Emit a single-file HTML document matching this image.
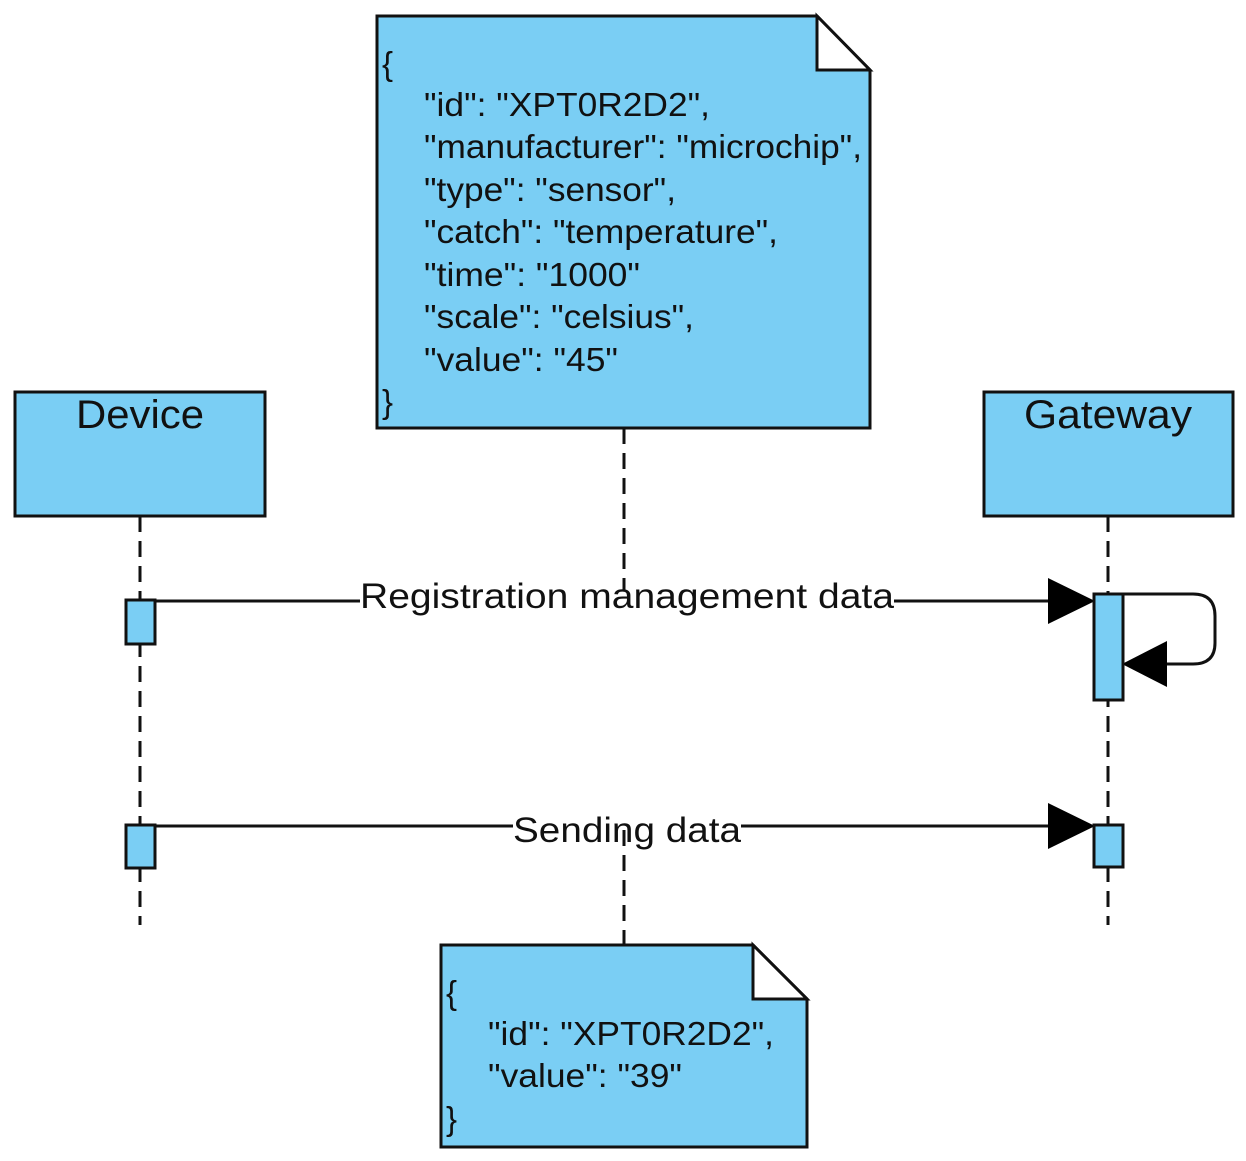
<!DOCTYPE html>
<html><head><meta charset="utf-8"><style>html,body{margin:0;padding:0;background:#fff}svg{display:block}</style></head>
<body>
<svg width="1246" height="1161" viewBox="0 0 1246 1161" xmlns="http://www.w3.org/2000/svg" font-family="Liberation Sans, Arial, sans-serif" fill="#111">
<g stroke="#111" stroke-width="3">
<line x1="140" y1="516" x2="140" y2="925" stroke-dasharray="16,9"/>
<line x1="1108" y1="516" x2="1108" y2="925" stroke-dasharray="16,9"/>
<rect x="15" y="392" width="250" height="124" fill="#7ACEF4"/>
<rect x="984" y="392" width="249" height="124" fill="#7ACEF4"/>
<line x1="155" y1="601" x2="1060" y2="601"/>
<line x1="155" y1="826" x2="1060" y2="826"/>
<path d="M1123 594 H1193 Q1215 594 1215 616 V643 Q1215 664 1193 664 H1150" fill="none"/>
</g>
<polygon points="1048,578 1095,601 1048,624" fill="#000"/>
<polygon points="1048,803 1095,826 1048,849" fill="#000"/>
<polygon points="1167,641 1122,664 1167,687" fill="#000"/>
<g stroke="#111" stroke-width="3" fill="#7ACEF4">
<rect x="126" y="600" width="29" height="44"/>
<rect x="126" y="825" width="29" height="43"/>
<rect x="1094" y="594" width="29" height="106"/>
<rect x="1094" y="825" width="29" height="42"/>
</g>
<text x="76" y="428" font-size="40" textLength="128" lengthAdjust="spacingAndGlyphs">Device</text>
<text x="1024" y="428" font-size="40" textLength="168" lengthAdjust="spacingAndGlyphs">Gateway</text>
<rect x="360" y="582" width="534" height="34" fill="#fff"/>
<text x="360" y="608" font-size="35" textLength="534" lengthAdjust="spacingAndGlyphs">Registration management data</text>
<rect x="513" y="808" width="228" height="34" fill="#fff"/>
<text x="513" y="842" font-size="35" textLength="228" lengthAdjust="spacingAndGlyphs">Sending data</text>
<g stroke="#111" stroke-width="3">
<line x1="624" y1="428" x2="624" y2="590" stroke-dasharray="16,9"/>
<line x1="624" y1="830" x2="624" y2="945" stroke-dasharray="16,9"/>
<path d="M377 16 H817 L870 70 V428 H377 Z" fill="#7ACEF4"/>
<path d="M817 16 L870 70 H817 Z" fill="#fff"/>
<path d="M441 945 H753 L807 999 V1147 H441 Z" fill="#7ACEF4"/>
<path d="M753 945 L807 999 H753 Z" fill="#fff"/>
</g>
<g font-size="33" lengthAdjust="spacingAndGlyphs">
<text x="382" y="75">{</text>
<text x="424" y="116" textLength="286" lengthAdjust="spacingAndGlyphs">"id": "XPT0R2D2",</text>
<text x="424" y="158" textLength="438" lengthAdjust="spacingAndGlyphs">"manufacturer": "microchip",</text>
<text x="424" y="201" textLength="252" lengthAdjust="spacingAndGlyphs">"type": "sensor",</text>
<text x="424" y="243" textLength="354" lengthAdjust="spacingAndGlyphs">"catch": "temperature",</text>
<text x="424" y="286" textLength="216" lengthAdjust="spacingAndGlyphs">"time": "1000"</text>
<text x="424" y="328" textLength="270" lengthAdjust="spacingAndGlyphs">"scale": "celsius",</text>
<text x="424" y="371" textLength="194" lengthAdjust="spacingAndGlyphs">"value": "45"</text>
<text x="382" y="413">}</text>
<text x="446" y="1004">{</text>
<text x="488" y="1045" textLength="286" lengthAdjust="spacingAndGlyphs">"id": "XPT0R2D2",</text>
<text x="488" y="1087" textLength="194" lengthAdjust="spacingAndGlyphs">"value": "39"</text>
<text x="446" y="1130">}</text>
</g>
</svg>
</body></html>
